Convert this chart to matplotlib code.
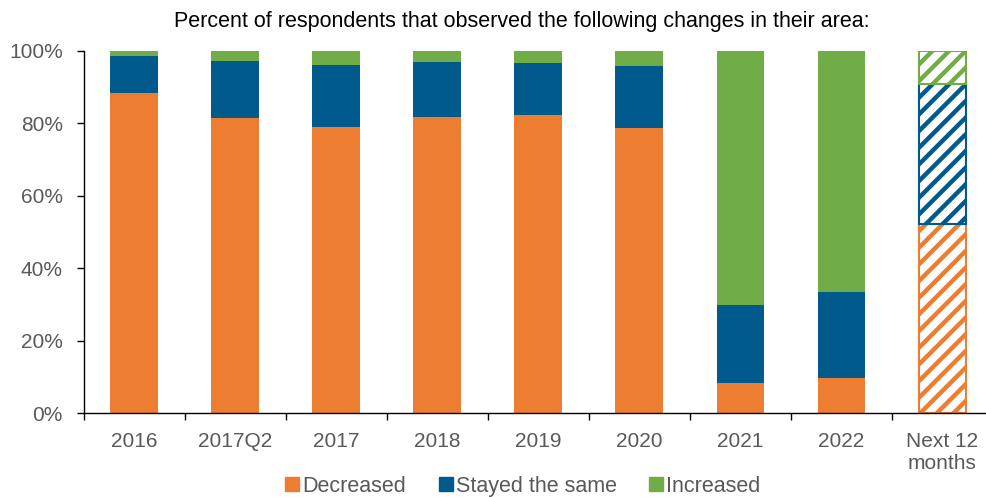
import numpy as np
import matplotlib.pyplot as plt
from matplotlib.patches import Patch

plt.rcParams['font.family'] = ['Liberation Sans', 'DejaVu Sans']
plt.rcParams['hatch.linewidth'] = 3.2

categories = ['2016', '2017Q2', '2017', '2018', '2019', '2020', '2021', '2022', 'Next 12\nmonths']
decreased = [88.5, 81.6, 78.9, 81.7, 82.3, 78.7, 8.3, 9.8, 52.3]
stayed = [10.0, 15.5, 17.2, 15.3, 14.4, 17.1, 21.5, 23.5, 38.7]
increased = [1.5, 2.9, 3.9, 3.0, 3.3, 4.2, 70.2, 66.7, 9.0]

orange = '#ED7D31'
blue = '#005A8C'
green = '#70AD47'
grey = '#595959'

fig = plt.figure(figsize=(9.87, 4.97), dpi=100)
ax = fig.add_axes([0.0846, 0.169, 0.9212, 0.7284])

x = np.arange(len(categories))
dec = np.array(decreased)
sta = np.array(stayed)
inc = np.array(increased)
w = 0.468

# actual years solid, last one (forecast) hatched
n = len(categories) - 1
ax.bar(x[:n], dec[:n], w, color=orange)
ax.bar(x[:n], sta[:n], w, bottom=dec[:n], color=blue)
ax.bar(x[:n], inc[:n], w, bottom=dec[:n] + sta[:n], color=green)

ax.bar(x[n], dec[n], w, facecolor='white', edgecolor=orange, hatch='//', linewidth=1.5)
ax.bar(x[n], sta[n], w, bottom=dec[n], facecolor='white', edgecolor=blue, hatch='//', linewidth=1.5)
ax.bar(x[n], inc[n], w, bottom=dec[n] + sta[n], facecolor='white', edgecolor=green, hatch='//', linewidth=1.5)

ax.set_xlim(-0.5, len(categories) - 0.5)
ax.set_ylim(0, 100)
ax.set_yticks(np.arange(0, 101, 20))
ax.set_yticklabels([f'{v}%' for v in range(0, 101, 20)])
ax.set_xticks(x)
ax.set_xticklabels(categories)
ax.set_xticks(np.arange(-0.5, len(categories), 1), minor=True)
ax.tick_params(axis='x', which='major', length=0, pad=14, labelsize=15, labelcolor=grey)
ax.tick_params(axis='x', which='minor', length=5, width=1, direction='out')
ax.tick_params(axis='y', length=5, width=1, pad=10, labelsize=15, labelcolor=grey)

for s in ['top', 'right']:
    ax.spines[s].set_visible(False)
ax.spines['left'].set_linewidth(1)
ax.spines['bottom'].set_linewidth(1)

fig.text(0.529, 0.956, 'Percent of respondents that observed the following changes in their area:',
         ha='center', va='center', fontsize=15.5)

handles = [Patch(color=orange, label='Decreased'),
           Patch(color=blue, label='Stayed the same'),
           Patch(color=green, label='Increased')]
fig.legend(handles=handles, loc='center', bbox_to_anchor=(0.53, 0.022), ncol=3, frameon=False,
           fontsize=15.5, handlelength=0.65, handleheight=0.65, handletextpad=0.15,
           columnspacing=1.5, labelcolor=grey)

fig.savefig('out.png', dpi=100)
